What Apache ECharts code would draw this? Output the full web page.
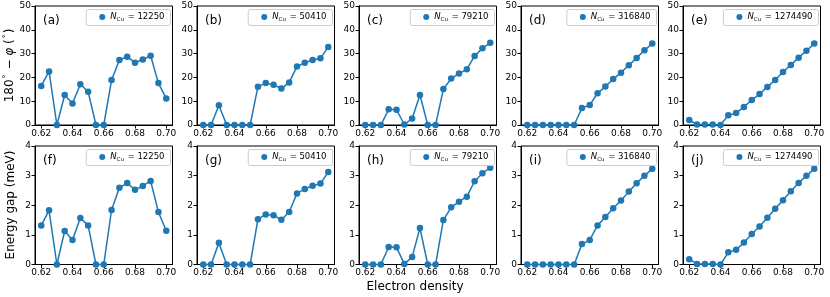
<!DOCTYPE html>
<html>
<head>
<meta charset="utf-8">
<script src="https://cdn.jsdelivr.net/npm/echarts@6/dist/echarts.min.js"></script>
<style>html,body{margin:0;padding:0;background:#fff}#c{width:830px;height:297px}</style>
</head>
<body>
<div id="c"></div>
<script>
// Electron density values (x)
const density = [0.62,0.625,0.63,0.635,0.64,0.645,0.65,0.655,0.66,0.665,0.67,0.675,0.68,0.685,0.69,0.695,0.70];
const xTicks = [0.62,0.64,0.66,0.68,0.70];
const angleTicks = [0,10,20,30,40,50];
const gapTicks = [0,1,2,3,4];
const nCu = [12250, 50410, 79210, 316840, 1274490];
const panelLabelsTop = ['(a)','(b)','(c)','(d)','(e)'];
const panelLabelsBottom = ['(f)','(g)','(h)','(i)','(j)'];

// 180° − φ (degrees)
const angleA = [16.4,22.5,0,12.6,9.0,17.1,14.0,0,0,18.9,27.3,28.7,26.2,27.5,29.1,17.6,11.1];
const angleB = [0,0,8.3,0,0,0,0,16.1,17.6,16.9,15.3,17.9,24.6,26.2,27.3,28.0,32.8];
const angleC = [0,0,0,6.6,6.4,0.2,2.7,12.6,0,0,15.1,19.5,21.6,23.4,29.0,32.2,34.6];
const angleD = [0,0,0,0,0,0,0,7.1,8.4,13.3,16.2,19.3,22.0,25.1,28.2,31.4,34.2];
const angleE = [2.1,0.2,0.2,0.2,0,4.1,5.0,7.6,10.5,13.0,16.0,18.9,22.3,25.2,28.3,31.2,34.2];

// Energy gap (meV)
const gapF = [1.32,1.83,0,1.13,0.83,1.57,1.32,0,0,1.84,2.59,2.75,2.52,2.65,2.82,1.77,1.14];
const gapG = [0,0,0.73,0,0,0,0,1.53,1.69,1.66,1.51,1.77,2.40,2.55,2.66,2.73,3.12];
const gapH = [0,0,0,0.59,0.58,0.02,0.25,1.23,0,0,1.50,1.93,2.12,2.29,2.81,3.08,3.27];
const gapI = [0,0,0,0,0,0,0,0.69,0.83,1.32,1.60,1.90,2.16,2.46,2.74,3.00,3.23];
const gapJ = [0.18,0.02,0.02,0.02,0,0.41,0.50,0.74,1.03,1.28,1.58,1.88,2.17,2.47,2.75,3.00,3.23];

const angleSeries = [angleA, angleB, angleC, angleD, angleE];
const gapSeries = [gapF, gapG, gapH, gapI, gapJ];

const FONT = 'DejaVu Sans';
const BLUE = '#1f77b4';
const chart = echarts.init(document.getElementById('c'), null, {renderer:'canvas'});

const grids = [], xAxes = [], yAxes = [], series = [], legends = [], titles = [];
const colLeft = i => 35 + 162 * i;
const W = 137.5;
const rows = [{top: 6, h: 119, ymax: 50, ticks: angleTicks, data: angleSeries, labels: panelLabelsTop},
              {top: 146, h: 118.5, ymax: 4, ticks: gapTicks, data: gapSeries, labels: panelLabelsBottom}];

rows.forEach((row, r) => {
  for (let i = 0; i < 5; i++) {
    const k = r * 5 + i;
    const left = colLeft(i);
    grids.push({left: left, top: row.top, width: W, height: row.h, show: true,
      borderColor: '#000', borderWidth: 1, backgroundColor: 'transparent', containLabel: false});
    xAxes.push({type: 'value', gridIndex: k, min: 0.616, max: 0.704,
      axisLine: {show: true, onZero: false, lineStyle: {color: '#000', width: 1}},
      axisTick: {show: true, length: 3.5, customValues: xTicks, lineStyle: {color: '#000'}},
      axisLabel: {customValues: xTicks, fontFamily: FONT, fontSize: 9, color: '#000', margin: 4,
        formatter: v => v.toFixed(2)},
      splitLine: {show: false}});
    yAxes.push({type: 'value', gridIndex: k, min: 0, max: row.ymax,
      axisLine: {show: true, lineStyle: {color: '#000', width: 1}},
      axisTick: {show: true, length: 3.5, customValues: row.ticks, lineStyle: {color: '#000'}},
      axisLabel: {customValues: row.ticks, fontFamily: FONT, fontSize: 9, color: '#000', margin: 4},
      splitLine: {show: false}});
    const name = row.labels[i];
    series.push({type: 'line', name: name, xAxisIndex: k, yAxisIndex: k,
      data: density.map((x, j) => [x, row.data[i][j]]),
      symbol: 'circle', symbolSize: 6.5, showSymbol: true, clip: false,
      itemStyle: {color: BLUE}, lineStyle: {color: BLUE, width: 1.5}, z: 2});
    legends.push({data: [{name: name, icon: 'circle'}], right: 830 - (left + W - 2), top: row.top + 3.5,
      orient: 'horizontal', itemWidth: 6, itemHeight: 6, itemGap: 0, itemTextGap: 10,
      padding: [3, 6, 3, 13], borderColor: '#cccccc', borderWidth: 1, borderRadius: 2,
      backgroundColor: 'rgba(255,255,255,0.8)', selectedMode: false,
      formatter: () => '{i|N}{s|Cu}{n| = ' + nCu[i] + '}',
      textStyle: {fontFamily: FONT, color: '#000', fontSize: 8,
        rich: {i: {fontStyle: 'italic', fontSize: 8.5, fontFamily: FONT},
               s: {fontSize: 5.5, fontFamily: FONT, padding: [5, 1, 0, 0]},
               n: {fontSize: 8.5, fontFamily: FONT}}}});
    titles.push({text: name, left: left + 8, top: row.top + 9,
      textStyle: {fontFamily: FONT, fontSize: 12, fontWeight: 'normal', color: '#000'}, padding: 0});
  }
});

const option = {
  animation: false,
  title: titles,
  grid: grids, xAxis: xAxes, yAxis: yAxes, series: series, legend: legends,
  graphic: [
    {type: 'text', x: 10, y: 65.5, rotation: Math.PI / 2,
      style: {text: '180{sup|°} − {it|φ} ({sup|°})', fontFamily: FONT, fontSize: 12, fill: '#000',
        align: 'center', verticalAlign: 'middle', textAlign: 'center', textVerticalAlign: 'middle',
        rich: {sup: {fontSize: 8, fontFamily: FONT, padding: [0, 1, 6, 1]}, it: {fontStyle: 'italic', fontSize: 12, fontFamily: FONT}}}},
    {type: 'text', x: 11, y: 205, rotation: Math.PI / 2,
      style: {text: 'Energy gap (meV)', fontFamily: FONT, fontSize: 12, fill: '#000',
        align: 'center', verticalAlign: 'middle', textAlign: 'center', textVerticalAlign: 'middle'}},
    {type: 'text', x: 415, y: 287,
      style: {text: 'Electron density', fontFamily: FONT, fontSize: 12, fill: '#000',
        align: 'center', verticalAlign: 'middle', textAlign: 'center', textVerticalAlign: 'middle'}}
  ]
};
chart.setOption(option);
</script>
</body>
</html>
